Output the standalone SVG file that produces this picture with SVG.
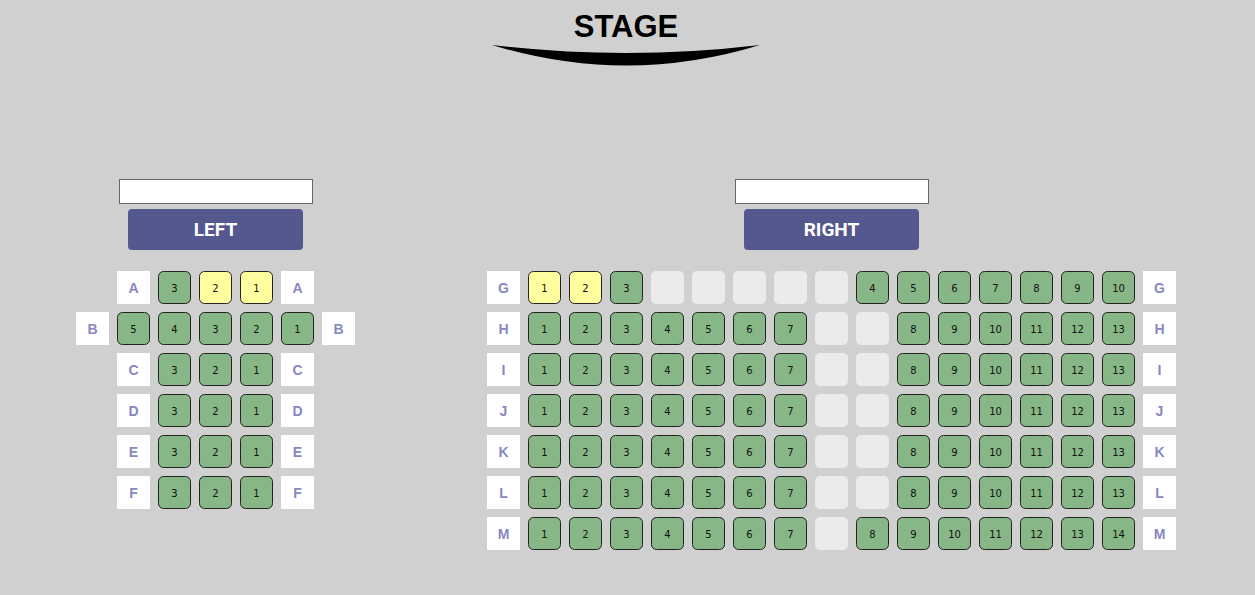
<svg xmlns="http://www.w3.org/2000/svg" width="1255" height="595" viewBox="0 0 1255 595">
<style>
.bg{fill:#d0d0d0}
.s{stroke:#222;stroke-width:1}
.g{fill:#87b787}
.y{fill:#ffffa0}
.e{fill:#ebebeb}
.st text{font-family:"DejaVu Sans",Verdana,sans-serif;font-size:10px;fill:#111;text-anchor:middle}
.lb rect{fill:#fff}
.lb text{font-family:"Liberation Sans",Arial,sans-serif;font-weight:bold;font-size:14px;fill:#8787c3;text-anchor:middle}
.btn rect{fill:#55578f}
.btn text{font-family:Roboto,"Open Sans",sans-serif;font-weight:bold;font-size:19px;fill:#fff;text-anchor:middle}
.inp{fill:#fff;stroke:#666;stroke-width:1}
</style>
<rect class="bg" x="0" y="0" width="1255" height="595"/>
<g id="stage">
<text x="626" y="37" font-family="'Liberation Sans',Arial,sans-serif" font-weight="bold" font-size="31" text-anchor="middle" fill="#000">STAGE</text>
<path d="M492,45 Q626,61 760,45 Q626,86 492,45 Z" fill="#000"/>
</g>
<g id="left-header">
<rect class="inp" x="119.5" y="179.5" width="193" height="24"/>
<g class="btn"><rect x="128" y="209" width="175" height="41" rx="4"/><text x="215.5" y="236">LEFT</text></g>
</g>
<g id="right-header">
<rect class="inp" x="735.5" y="179.5" width="193" height="24"/>
<g class="btn"><rect x="744" y="209" width="175" height="41" rx="4"/><text x="831.5" y="236">RIGHT</text></g>
</g>
<g id="left-section">
<g class="lb" id="lA1" transform="translate(117,271)"><rect width="33" height="33"/><text x="16.5" y="22">A</text></g>
<g class="st" id="A3" transform="translate(158,271)"><rect class="s g" x="0.5" y="0.5" width="32" height="32" rx="5"/><text x="16.5" y="20.5">3</text></g>
<g class="st" id="A2" transform="translate(199,271)"><rect class="s y" x="0.5" y="0.5" width="32" height="32" rx="5"/><text x="16.5" y="20.5">2</text></g>
<g class="st" id="A1" transform="translate(240,271)"><rect class="s y" x="0.5" y="0.5" width="32" height="32" rx="5"/><text x="16.5" y="20.5">1</text></g>
<g class="lb" id="lA2" transform="translate(281,271)"><rect width="33" height="33"/><text x="16.5" y="22">A</text></g>

<g class="lb" id="lB1" transform="translate(76,312)"><rect width="33" height="33"/><text x="16.5" y="22">B</text></g>
<g class="st" id="B5" transform="translate(117,312)"><rect class="s g" x="0.5" y="0.5" width="32" height="32" rx="5"/><text x="16.5" y="20.5">5</text></g>
<g class="st" id="B4" transform="translate(158,312)"><rect class="s g" x="0.5" y="0.5" width="32" height="32" rx="5"/><text x="16.5" y="20.5">4</text></g>
<g class="st" id="B3" transform="translate(199,312)"><rect class="s g" x="0.5" y="0.5" width="32" height="32" rx="5"/><text x="16.5" y="20.5">3</text></g>
<g class="st" id="B2" transform="translate(240,312)"><rect class="s g" x="0.5" y="0.5" width="32" height="32" rx="5"/><text x="16.5" y="20.5">2</text></g>
<g class="st" id="B1" transform="translate(281,312)"><rect class="s g" x="0.5" y="0.5" width="32" height="32" rx="5"/><text x="16.5" y="20.5">1</text></g>
<g class="lb" id="lB2" transform="translate(322,312)"><rect width="33" height="33"/><text x="16.5" y="22">B</text></g>

<g class="lb" id="lC1" transform="translate(117,353)"><rect width="33" height="33"/><text x="16.5" y="22">C</text></g>
<g class="st" id="C3" transform="translate(158,353)"><rect class="s g" x="0.5" y="0.5" width="32" height="32" rx="5"/><text x="16.5" y="20.5">3</text></g>
<g class="st" id="C2" transform="translate(199,353)"><rect class="s g" x="0.5" y="0.5" width="32" height="32" rx="5"/><text x="16.5" y="20.5">2</text></g>
<g class="st" id="C1" transform="translate(240,353)"><rect class="s g" x="0.5" y="0.5" width="32" height="32" rx="5"/><text x="16.5" y="20.5">1</text></g>
<g class="lb" id="lC2" transform="translate(281,353)"><rect width="33" height="33"/><text x="16.5" y="22">C</text></g>

<g class="lb" id="lD1" transform="translate(117,394)"><rect width="33" height="33"/><text x="16.5" y="22">D</text></g>
<g class="st" id="D3" transform="translate(158,394)"><rect class="s g" x="0.5" y="0.5" width="32" height="32" rx="5"/><text x="16.5" y="20.5">3</text></g>
<g class="st" id="D2" transform="translate(199,394)"><rect class="s g" x="0.5" y="0.5" width="32" height="32" rx="5"/><text x="16.5" y="20.5">2</text></g>
<g class="st" id="D1" transform="translate(240,394)"><rect class="s g" x="0.5" y="0.5" width="32" height="32" rx="5"/><text x="16.5" y="20.5">1</text></g>
<g class="lb" id="lD2" transform="translate(281,394)"><rect width="33" height="33"/><text x="16.5" y="22">D</text></g>

<g class="lb" id="lE1" transform="translate(117,435)"><rect width="33" height="33"/><text x="16.5" y="22">E</text></g>
<g class="st" id="E3" transform="translate(158,435)"><rect class="s g" x="0.5" y="0.5" width="32" height="32" rx="5"/><text x="16.5" y="20.5">3</text></g>
<g class="st" id="E2" transform="translate(199,435)"><rect class="s g" x="0.5" y="0.5" width="32" height="32" rx="5"/><text x="16.5" y="20.5">2</text></g>
<g class="st" id="E1" transform="translate(240,435)"><rect class="s g" x="0.5" y="0.5" width="32" height="32" rx="5"/><text x="16.5" y="20.5">1</text></g>
<g class="lb" id="lE2" transform="translate(281,435)"><rect width="33" height="33"/><text x="16.5" y="22">E</text></g>

<g class="lb" id="lF1" transform="translate(117,476)"><rect width="33" height="33"/><text x="16.5" y="22">F</text></g>
<g class="st" id="F3" transform="translate(158,476)"><rect class="s g" x="0.5" y="0.5" width="32" height="32" rx="5"/><text x="16.5" y="20.5">3</text></g>
<g class="st" id="F2" transform="translate(199,476)"><rect class="s g" x="0.5" y="0.5" width="32" height="32" rx="5"/><text x="16.5" y="20.5">2</text></g>
<g class="st" id="F1" transform="translate(240,476)"><rect class="s g" x="0.5" y="0.5" width="32" height="32" rx="5"/><text x="16.5" y="20.5">1</text></g>
<g class="lb" id="lF2" transform="translate(281,476)"><rect width="33" height="33"/><text x="16.5" y="22">F</text></g>
</g>

<g id="right-section">
<g class="lb" id="lG1" transform="translate(487,271)"><rect width="33" height="33"/><text x="16.5" y="22">G</text></g>
<g class="st" id="G1" transform="translate(528,271)"><rect class="s y" x="0.5" y="0.5" width="32" height="32" rx="5"/><text x="16.5" y="20.5">1</text></g>
<g class="st" id="G2" transform="translate(569,271)"><rect class="s y" x="0.5" y="0.5" width="32" height="32" rx="5"/><text x="16.5" y="20.5">2</text></g>
<g class="st" id="G3" transform="translate(610,271)"><rect class="s g" x="0.5" y="0.5" width="32" height="32" rx="5"/><text x="16.5" y="20.5">3</text></g>
<g id="Gx1" transform="translate(651,271)"><rect class="e" width="33" height="33" rx="5"/></g>
<g id="Gx2" transform="translate(692,271)"><rect class="e" width="33" height="33" rx="5"/></g>
<g id="Gx3" transform="translate(733,271)"><rect class="e" width="33" height="33" rx="5"/></g>
<g id="Gx4" transform="translate(774,271)"><rect class="e" width="33" height="33" rx="5"/></g>
<g id="Gx5" transform="translate(815,271)"><rect class="e" width="33" height="33" rx="5"/></g>
<g class="st" id="G4" transform="translate(856,271)"><rect class="s g" x="0.5" y="0.5" width="32" height="32" rx="5"/><text x="16.5" y="20.5">4</text></g>
<g class="st" id="G5" transform="translate(897,271)"><rect class="s g" x="0.5" y="0.5" width="32" height="32" rx="5"/><text x="16.5" y="20.5">5</text></g>
<g class="st" id="G6" transform="translate(938,271)"><rect class="s g" x="0.5" y="0.5" width="32" height="32" rx="5"/><text x="16.5" y="20.5">6</text></g>
<g class="st" id="G7" transform="translate(979,271)"><rect class="s g" x="0.5" y="0.5" width="32" height="32" rx="5"/><text x="16.5" y="20.5">7</text></g>
<g class="st" id="G8" transform="translate(1020,271)"><rect class="s g" x="0.5" y="0.5" width="32" height="32" rx="5"/><text x="16.5" y="20.5">8</text></g>
<g class="st" id="G9" transform="translate(1061,271)"><rect class="s g" x="0.5" y="0.5" width="32" height="32" rx="5"/><text x="16.5" y="20.5">9</text></g>
<g class="st" id="G10" transform="translate(1102,271)"><rect class="s g" x="0.5" y="0.5" width="32" height="32" rx="5"/><text x="16.5" y="20.5">10</text></g>
<g class="lb" id="lG2" transform="translate(1143,271)"><rect width="33" height="33"/><text x="16.5" y="22">G</text></g>

<g class="lb" id="lH1" transform="translate(487,312)"><rect width="33" height="33"/><text x="16.5" y="22">H</text></g>
<g class="st" id="H1" transform="translate(528,312)"><rect class="s g" x="0.5" y="0.5" width="32" height="32" rx="5"/><text x="16.5" y="20.5">1</text></g>
<g class="st" id="H2" transform="translate(569,312)"><rect class="s g" x="0.5" y="0.5" width="32" height="32" rx="5"/><text x="16.5" y="20.5">2</text></g>
<g class="st" id="H3" transform="translate(610,312)"><rect class="s g" x="0.5" y="0.5" width="32" height="32" rx="5"/><text x="16.5" y="20.5">3</text></g>
<g class="st" id="H4" transform="translate(651,312)"><rect class="s g" x="0.5" y="0.5" width="32" height="32" rx="5"/><text x="16.5" y="20.5">4</text></g>
<g class="st" id="H5" transform="translate(692,312)"><rect class="s g" x="0.5" y="0.5" width="32" height="32" rx="5"/><text x="16.5" y="20.5">5</text></g>
<g class="st" id="H6" transform="translate(733,312)"><rect class="s g" x="0.5" y="0.5" width="32" height="32" rx="5"/><text x="16.5" y="20.5">6</text></g>
<g class="st" id="H7" transform="translate(774,312)"><rect class="s g" x="0.5" y="0.5" width="32" height="32" rx="5"/><text x="16.5" y="20.5">7</text></g>
<g id="Hx1" transform="translate(815,312)"><rect class="e" width="33" height="33" rx="5"/></g>
<g id="Hx2" transform="translate(856,312)"><rect class="e" width="33" height="33" rx="5"/></g>
<g class="st" id="H8" transform="translate(897,312)"><rect class="s g" x="0.5" y="0.5" width="32" height="32" rx="5"/><text x="16.5" y="20.5">8</text></g>
<g class="st" id="H9" transform="translate(938,312)"><rect class="s g" x="0.5" y="0.5" width="32" height="32" rx="5"/><text x="16.5" y="20.5">9</text></g>
<g class="st" id="H10" transform="translate(979,312)"><rect class="s g" x="0.5" y="0.5" width="32" height="32" rx="5"/><text x="16.5" y="20.5">10</text></g>
<g class="st" id="H11" transform="translate(1020,312)"><rect class="s g" x="0.5" y="0.5" width="32" height="32" rx="5"/><text x="16.5" y="20.5">11</text></g>
<g class="st" id="H12" transform="translate(1061,312)"><rect class="s g" x="0.5" y="0.5" width="32" height="32" rx="5"/><text x="16.5" y="20.5">12</text></g>
<g class="st" id="H13" transform="translate(1102,312)"><rect class="s g" x="0.5" y="0.5" width="32" height="32" rx="5"/><text x="16.5" y="20.5">13</text></g>
<g class="lb" id="lH2" transform="translate(1143,312)"><rect width="33" height="33"/><text x="16.5" y="22">H</text></g>

<g class="lb" id="lI1" transform="translate(487,353)"><rect width="33" height="33"/><text x="16.5" y="22">I</text></g>
<g class="st" id="I1" transform="translate(528,353)"><rect class="s g" x="0.5" y="0.5" width="32" height="32" rx="5"/><text x="16.5" y="20.5">1</text></g>
<g class="st" id="I2" transform="translate(569,353)"><rect class="s g" x="0.5" y="0.5" width="32" height="32" rx="5"/><text x="16.5" y="20.5">2</text></g>
<g class="st" id="I3" transform="translate(610,353)"><rect class="s g" x="0.5" y="0.5" width="32" height="32" rx="5"/><text x="16.5" y="20.5">3</text></g>
<g class="st" id="I4" transform="translate(651,353)"><rect class="s g" x="0.5" y="0.5" width="32" height="32" rx="5"/><text x="16.5" y="20.5">4</text></g>
<g class="st" id="I5" transform="translate(692,353)"><rect class="s g" x="0.5" y="0.5" width="32" height="32" rx="5"/><text x="16.5" y="20.5">5</text></g>
<g class="st" id="I6" transform="translate(733,353)"><rect class="s g" x="0.5" y="0.5" width="32" height="32" rx="5"/><text x="16.5" y="20.5">6</text></g>
<g class="st" id="I7" transform="translate(774,353)"><rect class="s g" x="0.5" y="0.5" width="32" height="32" rx="5"/><text x="16.5" y="20.5">7</text></g>
<g id="Ix1" transform="translate(815,353)"><rect class="e" width="33" height="33" rx="5"/></g>
<g id="Ix2" transform="translate(856,353)"><rect class="e" width="33" height="33" rx="5"/></g>
<g class="st" id="I8" transform="translate(897,353)"><rect class="s g" x="0.5" y="0.5" width="32" height="32" rx="5"/><text x="16.5" y="20.5">8</text></g>
<g class="st" id="I9" transform="translate(938,353)"><rect class="s g" x="0.5" y="0.5" width="32" height="32" rx="5"/><text x="16.5" y="20.5">9</text></g>
<g class="st" id="I10" transform="translate(979,353)"><rect class="s g" x="0.5" y="0.5" width="32" height="32" rx="5"/><text x="16.5" y="20.5">10</text></g>
<g class="st" id="I11" transform="translate(1020,353)"><rect class="s g" x="0.5" y="0.5" width="32" height="32" rx="5"/><text x="16.5" y="20.5">11</text></g>
<g class="st" id="I12" transform="translate(1061,353)"><rect class="s g" x="0.5" y="0.5" width="32" height="32" rx="5"/><text x="16.5" y="20.5">12</text></g>
<g class="st" id="I13" transform="translate(1102,353)"><rect class="s g" x="0.5" y="0.5" width="32" height="32" rx="5"/><text x="16.5" y="20.5">13</text></g>
<g class="lb" id="lI2" transform="translate(1143,353)"><rect width="33" height="33"/><text x="16.5" y="22">I</text></g>

<g class="lb" id="lJ1" transform="translate(487,394)"><rect width="33" height="33"/><text x="16.5" y="22">J</text></g>
<g class="st" id="J1" transform="translate(528,394)"><rect class="s g" x="0.5" y="0.5" width="32" height="32" rx="5"/><text x="16.5" y="20.5">1</text></g>
<g class="st" id="J2" transform="translate(569,394)"><rect class="s g" x="0.5" y="0.5" width="32" height="32" rx="5"/><text x="16.5" y="20.5">2</text></g>
<g class="st" id="J3" transform="translate(610,394)"><rect class="s g" x="0.5" y="0.5" width="32" height="32" rx="5"/><text x="16.5" y="20.5">3</text></g>
<g class="st" id="J4" transform="translate(651,394)"><rect class="s g" x="0.5" y="0.5" width="32" height="32" rx="5"/><text x="16.5" y="20.5">4</text></g>
<g class="st" id="J5" transform="translate(692,394)"><rect class="s g" x="0.5" y="0.5" width="32" height="32" rx="5"/><text x="16.5" y="20.5">5</text></g>
<g class="st" id="J6" transform="translate(733,394)"><rect class="s g" x="0.5" y="0.5" width="32" height="32" rx="5"/><text x="16.5" y="20.5">6</text></g>
<g class="st" id="J7" transform="translate(774,394)"><rect class="s g" x="0.5" y="0.5" width="32" height="32" rx="5"/><text x="16.5" y="20.5">7</text></g>
<g id="Jx1" transform="translate(815,394)"><rect class="e" width="33" height="33" rx="5"/></g>
<g id="Jx2" transform="translate(856,394)"><rect class="e" width="33" height="33" rx="5"/></g>
<g class="st" id="J8" transform="translate(897,394)"><rect class="s g" x="0.5" y="0.5" width="32" height="32" rx="5"/><text x="16.5" y="20.5">8</text></g>
<g class="st" id="J9" transform="translate(938,394)"><rect class="s g" x="0.5" y="0.5" width="32" height="32" rx="5"/><text x="16.5" y="20.5">9</text></g>
<g class="st" id="J10" transform="translate(979,394)"><rect class="s g" x="0.5" y="0.5" width="32" height="32" rx="5"/><text x="16.5" y="20.5">10</text></g>
<g class="st" id="J11" transform="translate(1020,394)"><rect class="s g" x="0.5" y="0.5" width="32" height="32" rx="5"/><text x="16.5" y="20.5">11</text></g>
<g class="st" id="J12" transform="translate(1061,394)"><rect class="s g" x="0.5" y="0.5" width="32" height="32" rx="5"/><text x="16.5" y="20.5">12</text></g>
<g class="st" id="J13" transform="translate(1102,394)"><rect class="s g" x="0.5" y="0.5" width="32" height="32" rx="5"/><text x="16.5" y="20.5">13</text></g>
<g class="lb" id="lJ2" transform="translate(1143,394)"><rect width="33" height="33"/><text x="16.5" y="22">J</text></g>

<g class="lb" id="lK1" transform="translate(487,435)"><rect width="33" height="33"/><text x="16.5" y="22">K</text></g>
<g class="st" id="K1" transform="translate(528,435)"><rect class="s g" x="0.5" y="0.5" width="32" height="32" rx="5"/><text x="16.5" y="20.5">1</text></g>
<g class="st" id="K2" transform="translate(569,435)"><rect class="s g" x="0.5" y="0.5" width="32" height="32" rx="5"/><text x="16.5" y="20.5">2</text></g>
<g class="st" id="K3" transform="translate(610,435)"><rect class="s g" x="0.5" y="0.5" width="32" height="32" rx="5"/><text x="16.5" y="20.5">3</text></g>
<g class="st" id="K4" transform="translate(651,435)"><rect class="s g" x="0.5" y="0.5" width="32" height="32" rx="5"/><text x="16.5" y="20.5">4</text></g>
<g class="st" id="K5" transform="translate(692,435)"><rect class="s g" x="0.5" y="0.5" width="32" height="32" rx="5"/><text x="16.5" y="20.5">5</text></g>
<g class="st" id="K6" transform="translate(733,435)"><rect class="s g" x="0.5" y="0.5" width="32" height="32" rx="5"/><text x="16.5" y="20.5">6</text></g>
<g class="st" id="K7" transform="translate(774,435)"><rect class="s g" x="0.5" y="0.5" width="32" height="32" rx="5"/><text x="16.5" y="20.5">7</text></g>
<g id="Kx1" transform="translate(815,435)"><rect class="e" width="33" height="33" rx="5"/></g>
<g id="Kx2" transform="translate(856,435)"><rect class="e" width="33" height="33" rx="5"/></g>
<g class="st" id="K8" transform="translate(897,435)"><rect class="s g" x="0.5" y="0.5" width="32" height="32" rx="5"/><text x="16.5" y="20.5">8</text></g>
<g class="st" id="K9" transform="translate(938,435)"><rect class="s g" x="0.5" y="0.5" width="32" height="32" rx="5"/><text x="16.5" y="20.5">9</text></g>
<g class="st" id="K10" transform="translate(979,435)"><rect class="s g" x="0.5" y="0.5" width="32" height="32" rx="5"/><text x="16.5" y="20.5">10</text></g>
<g class="st" id="K11" transform="translate(1020,435)"><rect class="s g" x="0.5" y="0.5" width="32" height="32" rx="5"/><text x="16.5" y="20.5">11</text></g>
<g class="st" id="K12" transform="translate(1061,435)"><rect class="s g" x="0.5" y="0.5" width="32" height="32" rx="5"/><text x="16.5" y="20.5">12</text></g>
<g class="st" id="K13" transform="translate(1102,435)"><rect class="s g" x="0.5" y="0.5" width="32" height="32" rx="5"/><text x="16.5" y="20.5">13</text></g>
<g class="lb" id="lK2" transform="translate(1143,435)"><rect width="33" height="33"/><text x="16.5" y="22">K</text></g>

<g class="lb" id="lL1" transform="translate(487,476)"><rect width="33" height="33"/><text x="16.5" y="22">L</text></g>
<g class="st" id="L1" transform="translate(528,476)"><rect class="s g" x="0.5" y="0.5" width="32" height="32" rx="5"/><text x="16.5" y="20.5">1</text></g>
<g class="st" id="L2" transform="translate(569,476)"><rect class="s g" x="0.5" y="0.5" width="32" height="32" rx="5"/><text x="16.5" y="20.5">2</text></g>
<g class="st" id="L3" transform="translate(610,476)"><rect class="s g" x="0.5" y="0.5" width="32" height="32" rx="5"/><text x="16.5" y="20.5">3</text></g>
<g class="st" id="L4" transform="translate(651,476)"><rect class="s g" x="0.5" y="0.5" width="32" height="32" rx="5"/><text x="16.5" y="20.5">4</text></g>
<g class="st" id="L5" transform="translate(692,476)"><rect class="s g" x="0.5" y="0.5" width="32" height="32" rx="5"/><text x="16.5" y="20.5">5</text></g>
<g class="st" id="L6" transform="translate(733,476)"><rect class="s g" x="0.5" y="0.5" width="32" height="32" rx="5"/><text x="16.5" y="20.5">6</text></g>
<g class="st" id="L7" transform="translate(774,476)"><rect class="s g" x="0.5" y="0.5" width="32" height="32" rx="5"/><text x="16.5" y="20.5">7</text></g>
<g id="Lx1" transform="translate(815,476)"><rect class="e" width="33" height="33" rx="5"/></g>
<g id="Lx2" transform="translate(856,476)"><rect class="e" width="33" height="33" rx="5"/></g>
<g class="st" id="L8" transform="translate(897,476)"><rect class="s g" x="0.5" y="0.5" width="32" height="32" rx="5"/><text x="16.5" y="20.5">8</text></g>
<g class="st" id="L9" transform="translate(938,476)"><rect class="s g" x="0.5" y="0.5" width="32" height="32" rx="5"/><text x="16.5" y="20.5">9</text></g>
<g class="st" id="L10" transform="translate(979,476)"><rect class="s g" x="0.5" y="0.5" width="32" height="32" rx="5"/><text x="16.5" y="20.5">10</text></g>
<g class="st" id="L11" transform="translate(1020,476)"><rect class="s g" x="0.5" y="0.5" width="32" height="32" rx="5"/><text x="16.5" y="20.5">11</text></g>
<g class="st" id="L12" transform="translate(1061,476)"><rect class="s g" x="0.5" y="0.5" width="32" height="32" rx="5"/><text x="16.5" y="20.5">12</text></g>
<g class="st" id="L13" transform="translate(1102,476)"><rect class="s g" x="0.5" y="0.5" width="32" height="32" rx="5"/><text x="16.5" y="20.5">13</text></g>
<g class="lb" id="lL2" transform="translate(1143,476)"><rect width="33" height="33"/><text x="16.5" y="22">L</text></g>

<g class="lb" id="lM1" transform="translate(487,517)"><rect width="33" height="33"/><text x="16.5" y="22">M</text></g>
<g class="st" id="M1" transform="translate(528,517)"><rect class="s g" x="0.5" y="0.5" width="32" height="32" rx="5"/><text x="16.5" y="20.5">1</text></g>
<g class="st" id="M2" transform="translate(569,517)"><rect class="s g" x="0.5" y="0.5" width="32" height="32" rx="5"/><text x="16.5" y="20.5">2</text></g>
<g class="st" id="M3" transform="translate(610,517)"><rect class="s g" x="0.5" y="0.5" width="32" height="32" rx="5"/><text x="16.5" y="20.5">3</text></g>
<g class="st" id="M4" transform="translate(651,517)"><rect class="s g" x="0.5" y="0.5" width="32" height="32" rx="5"/><text x="16.5" y="20.5">4</text></g>
<g class="st" id="M5" transform="translate(692,517)"><rect class="s g" x="0.5" y="0.5" width="32" height="32" rx="5"/><text x="16.5" y="20.5">5</text></g>
<g class="st" id="M6" transform="translate(733,517)"><rect class="s g" x="0.5" y="0.5" width="32" height="32" rx="5"/><text x="16.5" y="20.5">6</text></g>
<g class="st" id="M7" transform="translate(774,517)"><rect class="s g" x="0.5" y="0.5" width="32" height="32" rx="5"/><text x="16.5" y="20.5">7</text></g>
<g id="Mx1" transform="translate(815,517)"><rect class="e" width="33" height="33" rx="5"/></g>
<g class="st" id="M8" transform="translate(856,517)"><rect class="s g" x="0.5" y="0.5" width="32" height="32" rx="5"/><text x="16.5" y="20.5">8</text></g>
<g class="st" id="M9" transform="translate(897,517)"><rect class="s g" x="0.5" y="0.5" width="32" height="32" rx="5"/><text x="16.5" y="20.5">9</text></g>
<g class="st" id="M10" transform="translate(938,517)"><rect class="s g" x="0.5" y="0.5" width="32" height="32" rx="5"/><text x="16.5" y="20.5">10</text></g>
<g class="st" id="M11" transform="translate(979,517)"><rect class="s g" x="0.5" y="0.5" width="32" height="32" rx="5"/><text x="16.5" y="20.5">11</text></g>
<g class="st" id="M12" transform="translate(1020,517)"><rect class="s g" x="0.5" y="0.5" width="32" height="32" rx="5"/><text x="16.5" y="20.5">12</text></g>
<g class="st" id="M13" transform="translate(1061,517)"><rect class="s g" x="0.5" y="0.5" width="32" height="32" rx="5"/><text x="16.5" y="20.5">13</text></g>
<g class="st" id="M14" transform="translate(1102,517)"><rect class="s g" x="0.5" y="0.5" width="32" height="32" rx="5"/><text x="16.5" y="20.5">14</text></g>
<g class="lb" id="lM2" transform="translate(1143,517)"><rect width="33" height="33"/><text x="16.5" y="22">M</text></g>
</g>
<g id="connectors"/>
</svg>
